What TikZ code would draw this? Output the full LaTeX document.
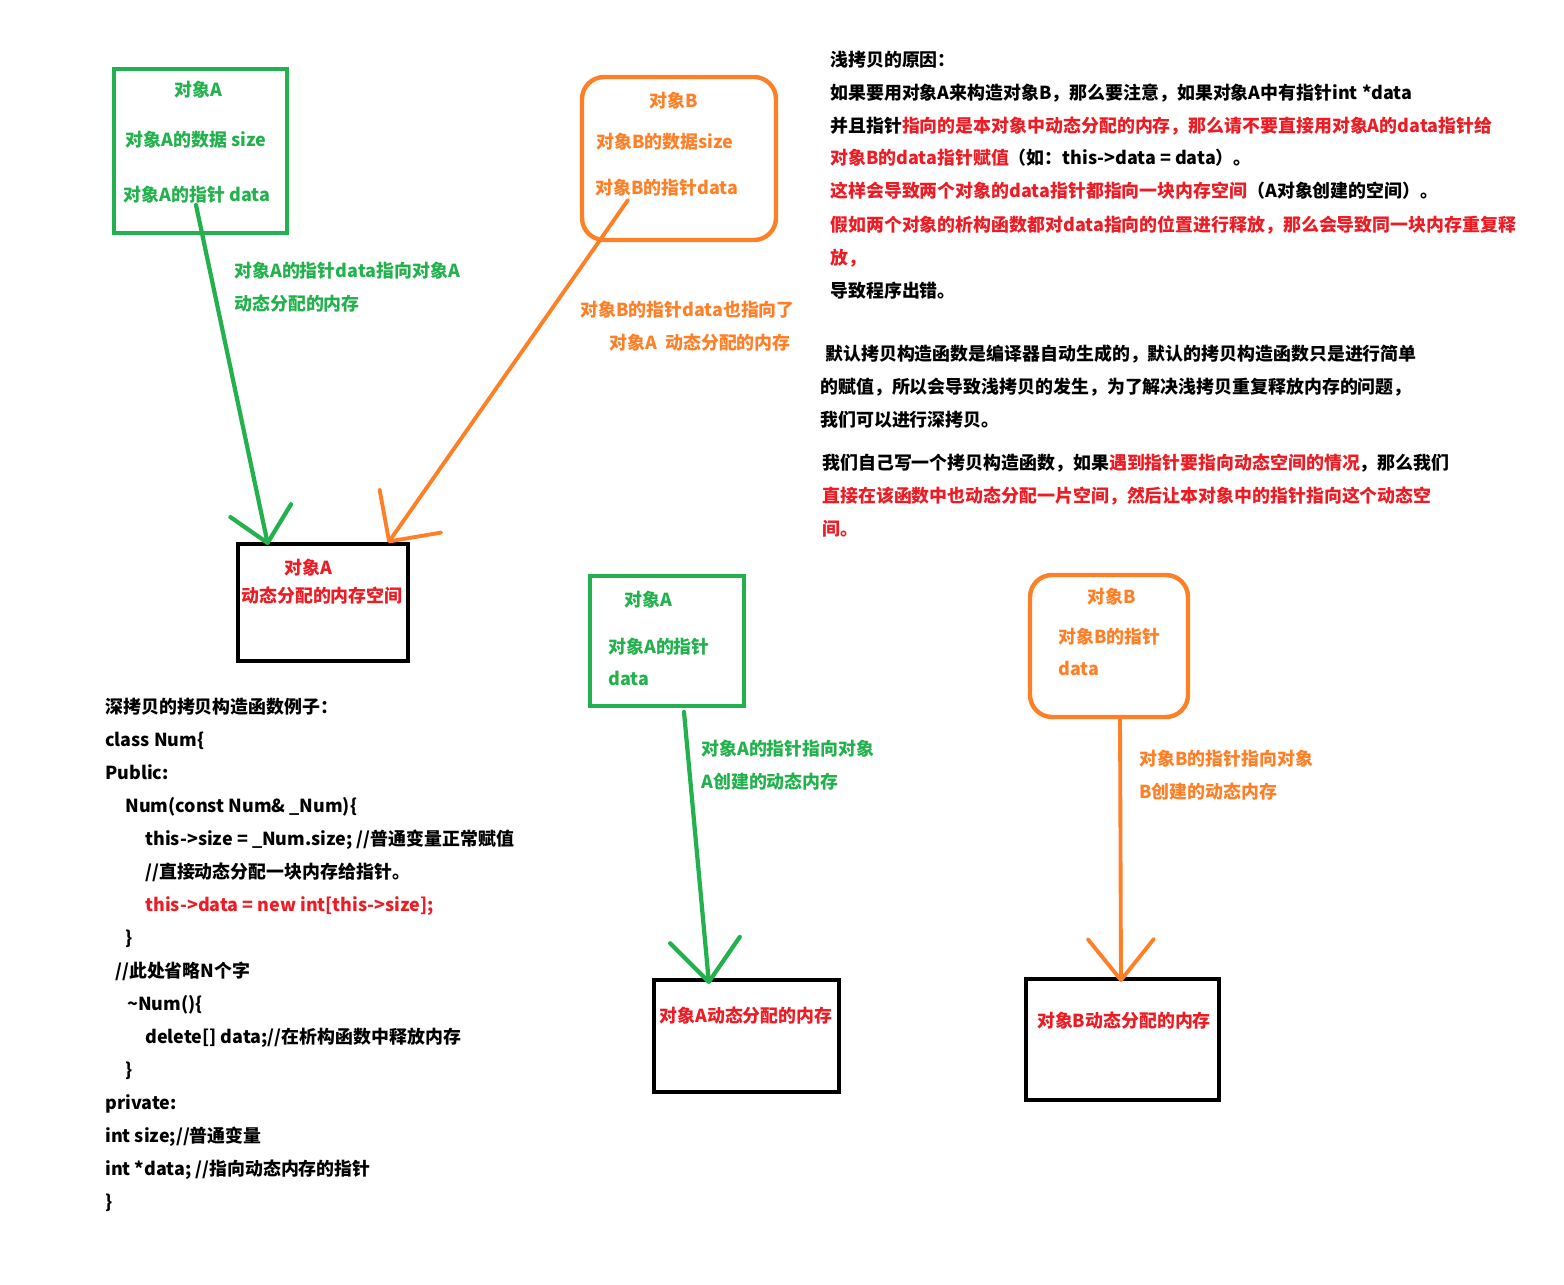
\documentclass[tikz,border=0pt]{standalone}
\usepackage{fontspec}
\setmainfont{Noto Sans CJK SC}
\usetikzlibrary{arrows.meta}
\definecolor{pgreen}{HTML}{22B14C}
\definecolor{porange}{HTML}{FF7F27}
\definecolor{pred}{HTML}{ED1C24}
\begin{document}
\begin{tikzpicture}[x=0.02cm,y=-0.02cm,
    grnline/.style={draw=pgreen,line width=2.4pt,line cap=round},
    orgline/.style={draw=porange,line width=2.2pt,line cap=round}]

      \useasboundingbox (0,0) rectangle (1564,1284);

      \begin{scope}[every node/.style={draw,line width=2.5pt,inner sep=0}]
        \node[draw=pgreen,minimum width=3.46cm,minimum height=3.28cm] (objA) at (200.5,151) {};
        \node[draw=porange,rounded corners=0.44cm,minimum width=3.88cm,minimum height=3.26cm] (objB) at (679,158.5) {};
        \node[minimum width=3.4cm,minimum height=2.34cm] (memA) at (323,602.5) {};
        \node[draw=pgreen,minimum width=3.08cm,minimum height=2.6cm] (objA2) at (667,641) {};
        \node[draw=porange,rounded corners=0.44cm,minimum width=3.16cm,minimum height=2.84cm] (objB2) at (1109,646) {};
        \node[minimum width=3.7cm,minimum height=2.24cm] (memA2) at (746.5,1036) {};
        \node[minimum width=3.86cm,minimum height=2.42cm] (memB2) at (1122.5,1039.5) {};
      \end{scope}

      \begin{scope}[every node/.style={inner sep=0,text height=9pt,text depth=1.2pt,
          font=\fontsize{10.2pt}{12pt}\selectfont\bfseries}]
        \node[pgreen] (a1) at (198,90) {对象A};
        \node[pgreen] (a2) at (196,140) {对象A的数据 size};
        \node[pgreen] (a3) at (197,195) {对象A的指针 data};
        \node[porange] (b1) at (674,101) {对象B};
        \node[porange] (b2) at (665,142) {对象B的数据size};
        \node[porange] (b3) at (667,188) {对象B的指针data};
        \node[pred] (m1) at (308,568) {对象A};
        \node[pred] (m2) at (322,596) {动态分配的内存空间};
        \node[pgreen,anchor=west] (a4) at (624,600) {对象A};
        \node[pgreen,anchor=west] (a5) at (608,647) {对象A的指针};
        \node[pgreen,anchor=west] (a6) at (608,679) {data};
        \node[porange] (b4) at (1112,597) {对象B};
        \node[porange,anchor=west] (b5) at (1058,637) {对象B的指针};
        \node[porange,anchor=west] (b6) at (1058,669) {data};
        \node[pred] (m3) at (746,1016) {对象A动态分配的内存};
        \node[pred] (m4) at (1124,1021) {对象B动态分配的内存};
      \end{scope}

      \begin{scope}[every node/.style={anchor=west,inner sep=0,text height=9pt,text depth=1.2pt,
          font=\fontsize{10.2pt}{12pt}\selectfont\bfseries}]
        \node[pgreen] (l1) at (234,271) {对象A的指针data指向对象A};
        \node[pgreen] (l2) at (234,304) {动态分配的内存};
        \node[porange] (l3) at (580,310) {对象B的指针data也指向了};
        \node[porange] (l4) at (609,343) {对象A\ \ 动态分配的内存};
        \node[pgreen] (l5) at (701,749) {对象A的指针指向对象};
        \node[pgreen] (l6) at (701,782) {A创建的动态内存};
        \node[porange] (l7) at (1139,759) {对象B的指针指向对象};
        \node[porange] (l8) at (1139,792) {B创建的动态内存};

        \node (r1) at (830,60) {浅拷贝的原因：};
        \node (r2) at (830,93) {如果要用对象A来构造对象B，那么要注意，如果对象A中有指针int *data};
        \node (r3) at (830,126) {并且指针\textcolor{pred}{指向的是本对象中动态分配的内存，那么请不要直接用对象A的data指针给}};
        \node (r4) at (830,158) {\textcolor{pred}{对象B的data指针赋值}（如：this->data = data）。};
        \node (r5) at (830,191) {\textcolor{pred}{这样会导致两个对象的data指针都指向一块内存空间}（A对象创建的空间）。};
        \node[pred] (r6) at (830,225) {假如两个对象的析构函数都对data指向的位置进行释放，那么会导致同一块内存重复释};
        \node[pred] (r7) at (830,258) {放，};
        \node (r8) at (830,291) {导致程序出错。};

        \node (s1) at (825,354) {默认拷贝构造函数是编译器自动生成的，默认的拷贝构造函数只是进行简单};
        \node (s2) at (820,387) {的赋值，所以会导致浅拷贝的发生，为了解决浅拷贝重复释放内存的问题，};
        \node (s3) at (820,420) {我们可以进行深拷贝。};

        \node (t1) at (822,463) {我们自己写一个拷贝构造函数，如果\textcolor{pred}{遇到指针要指向动态空间的情况}，那么我们};
        \node[pred] (t2) at (822,496) {直接在该函数中也动态分配一片空间，然后让本对象中的指针指向这个动态空};
        \node[pred] (t3) at (822,529) {间。};

        \node (c1) at (105,707) {深拷贝的拷贝构造函数例子：};
        \node (c2) at (105,740) {class Num\{};
        \node (c3) at (105,773) {Public:};
        \node (c4) at (125,806) {Num(const Num\& \_Num)\{};
        \node (c5) at (145,839) {this->size = \_Num.size; //普通变量正常赋值};
        \node (c6) at (145,872) {//直接动态分配一块内存给指针。};
        \node[pred] (c7) at (145,905) {this->data = new int[this->size];};
        \node (c8) at (125,938) {\}};
        \node (c9) at (115,971) {//此处省略N个字};
        \node (c10) at (127,1004) {\textasciitilde Num()\{};
        \node (c11) at (145,1037) {delete[] data;//在析构函数中释放内存};
        \node (c12) at (125,1070) {\}};
        \node (c13) at (105,1103) {private:};
        \node (c14) at (105,1136) {int size;//普通变量};
        \node (c15) at (105,1169) {int *data; //指向动态内存的指针};
        \node (c16) at (105,1202) {\}};
      \end{scope}

      \coordinate (pA) at (196,205);
      \coordinate (qA) at (268,545);
      \coordinate (pB) at (628,200);
      \coordinate (qB) at (388,543);
      \coordinate (pA2) at (684,712);
      \coordinate (qA2) at (709,984);
      \coordinate (pB2) at (1120,718);
      \coordinate (qB2) at (1121,982);

      \draw[grnline,-{Straight Barb[round,length=0.66cm,width=1.24cm]}] (pA) -- (qA);
      \draw[orgline,-{Straight Barb[round,length=0.74cm,width=1.5cm]}] (pB) -- (qB);
      \draw[grnline,-{Straight Barb[round,length=0.84cm,width=1.4cm]}] (pA2) -- (qA2);
      \draw[orgline,-{Straight Barb[round,length=0.82cm,width=1.32cm]}] (pB2) -- (qB2);

    \end{tikzpicture}
\end{document}
